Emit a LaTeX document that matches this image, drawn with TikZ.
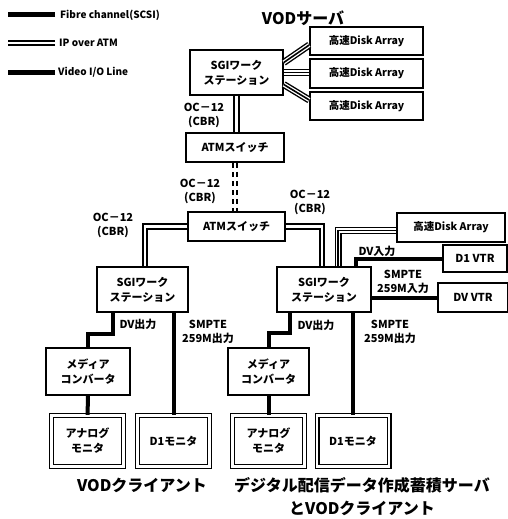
\documentclass[tikz,border=0pt]{standalone}
\usepackage{fontspec}
\setmainfont{Noto Sans CJK JP}
\usetikzlibrary{positioning, calc}

\tikzset{
    % Box styles with thick sharp borders
    unit box/.style={
        rectangle,
        draw=black,
        fill=white,
        line width=1.5pt,
        inner sep=0pt,
        align=center,
        font=\fontsize{11}{15}\selectfont\bfseries
    },
    disk box/.style={
        unit box,
        minimum width=113pt,
        minimum height=28pt,
        font=\fontsize{10.5}{12}\selectfont\bfseries
    },
    monitor box/.style={
        unit box,
        double,
        double distance=2.4pt,
        line width=1.3pt,
        minimum width=72pt,
        minimum height=51pt
    },
    % Line styles
    ip line/.style={
        draw=black,
        double=white,
        line width=1.7pt,
        double distance=2.8pt
    },
    fibre line/.style={
        draw=black,
        line width=7pt,
        postaction={draw=white, line width=4.2pt},
        postaction={draw=black, line width=1.6pt}
    },
    video line/.style={
        draw=black,
        line width=4pt
    },
    tag/.style={
        align=center,
        inner sep=0pt,
        font=\fontsize{11}{14}\selectfont\bfseries
    },
    key text/.style={
        anchor=west,
        inner sep=0pt,
        font=\fontsize{10}{12}\selectfont\bfseries
    },
    title/.style={
        align=center,
        inner sep=0pt,
        font=\fontsize{16}{23}\selectfont\bfseries
    }
}

\begin{document}
\begin{tikzpicture}[x=1pt, y=-1pt]
    \useasboundingbox (0,0) rectangle (508,519);

    % legend
    \node[key text] (fcKey) at (60,15) {Fibre channel(SCSI)};
    \node[key text] (ipKey) at (59,43) {IP over ATM};
    \node[key text] (vioKey) at (58,72) {Video I/O Line};
    \draw[line width=5pt] ([xshift=-5pt]fcKey.west) -- ++(-47,0);
    \draw[ip line] ([xshift=-4pt]ipKey.west) -- ++(-47,0);
    \draw[line width=5pt] ([xshift=-3pt]vioKey.west) -- ++(-47,0);

    % VOD server
    \node[title] (srvTitle) at (303,18) {VODサーバ};
    \node[unit box, minimum width=93pt, minimum height=45pt] (sgiT) at (236.5,72.5) {SGIワーク\\ステーション};
    \node[disk box] (disk1) at (366.5,41) {高速Disk Array};
    \node[disk box, minimum height=29pt] (disk2) at (366.5,73.5) {高速Disk Array};
    \node[disk box] (disk3) at (366.5,106) {高速Disk Array};
    \node[unit box, minimum width=98pt, minimum height=29pt] (atm1) at (235,147.5) {ATMスイッチ};
    \node[unit box, minimum width=97pt, minimum height=29pt] (atm2) at (236.5,226.5) {ATMスイッチ};

    % client side
    \node[unit box, minimum width=91pt, minimum height=45pt] (sgiL) at (142.5,289.5) {SGIワーク\\ステーション};
    \node[unit box, minimum width=84pt, minimum height=47pt] (mcL) at (88,371.5) {メディア\\コンバータ};
    \node[monitor box] (monAL) at (87.5,441) {アナログ\\モニタ};
    \node[monitor box] (monDL) at (173.5,441) {D1モニタ};

    % authoring server side
    \node[unit box, minimum width=94pt, minimum height=45pt] (sgiR) at (324,289.5) {SGIワーク\\ステーション};
    \node[disk box, minimum width=108pt, minimum height=29pt] (disk4) at (451,227.5) {高速Disk Array};
    \node[unit box, minimum width=64pt, minimum height=27pt] (vtrA) at (475,258.5) {D1 VTR};
    \node[unit box, minimum width=70pt, minimum height=29pt] (vtrB) at (473,297.5) {DV VTR};
    \node[unit box, minimum width=81pt, minimum height=47pt] (mcR) at (268.5,371.5) {メディア\\コンバータ};
    \node[monitor box] (monAR) at (268.5,441) {アナログ\\モニタ};
    \node[monitor box] (monDR) at (353,441) {D1モニタ};

    \node[title] (cliTitle) at (142,485) {VODクライアント};
    \node[title] (autTitle) at (362,497) {デジタル配信データ作成蓄積サーバ\\とVODクライアント};

    % fibre channel
    \draw[fibre line] ([yshift=10pt]sgiT.east) -- ([yshift=-4pt]disk1.west);
    \draw[fibre line] (sgiT.east) -- (sgiT.east -| disk2.west);
    \draw[fibre line] ([yshift=-12pt]sgiT.east) -- ([yshift=6pt]disk3.west);
    \draw[fibre line] ([xshift=14pt]sgiR.north) |- ([yshift=-3pt]disk4.west);

    % IP over ATM
    \draw[ip line] (sgiT.south) -- (sgiT.south |- atm1.north);
    \draw[ip line, dash pattern=on 5pt off 4pt] (atm1.south) -- (atm1.south |- atm2.north);
    \draw[ip line] (atm2.west) -| ([xshift=2.5pt]sgiL.north);
    \draw[ip line] (atm2.east) -| ([xshift=-2pt]sgiR.north);
    \node[tag] (ocA) at (204,115) {OC－12\\(CBR)};
    \node[tag] (ocB) at (200,191) {OC－12\\(CBR)};
    \node[tag] (ocC) at (113,225) {OC－12\\(CBR)};
    \node[tag] (ocD) at (310,202) {OC－12\\(CBR)};

    % video I/O
    \draw[video line] ([xshift=-29.5pt]sgiL.south) -- ++(0,21) -| (mcL.north);
    \draw[video line] (monDL.north |- sgiL.south) -- (monDL.north);
    \draw[video line] (mcL) -- (monAL);
    \draw[video line] ([xshift=-34pt]sgiR.south) -- ++(0,20) -| (mcR.north);
    \draw[video line] (monDR.north |- sgiR.south) -- (monDR.north);
    \draw[video line] (mcR) -- (monAR);
    \draw[video line] (vtrA.west) -| ([xshift=32pt]sgiR.north);
    \draw[video line] (vtrB.west) -- (vtrB.west -| sgiR.east);
    \node[tag] (dvOutL) at (138,324) {DV出力};
    \node[tag] (smOutL) at (208,332) {SMPTE\\259M出力};
    \node[tag] (dvOutR) at (316,325) {DV出力};
    \node[tag] (smOutR) at (390,332) {SMPTE\\259M出力};
    \node[tag] (dvIn) at (377,251) {DV入力};
    \node[tag] (smIn) at (403,282) {SMPTE\\259M入力};
\end{tikzpicture}
\end{document}
